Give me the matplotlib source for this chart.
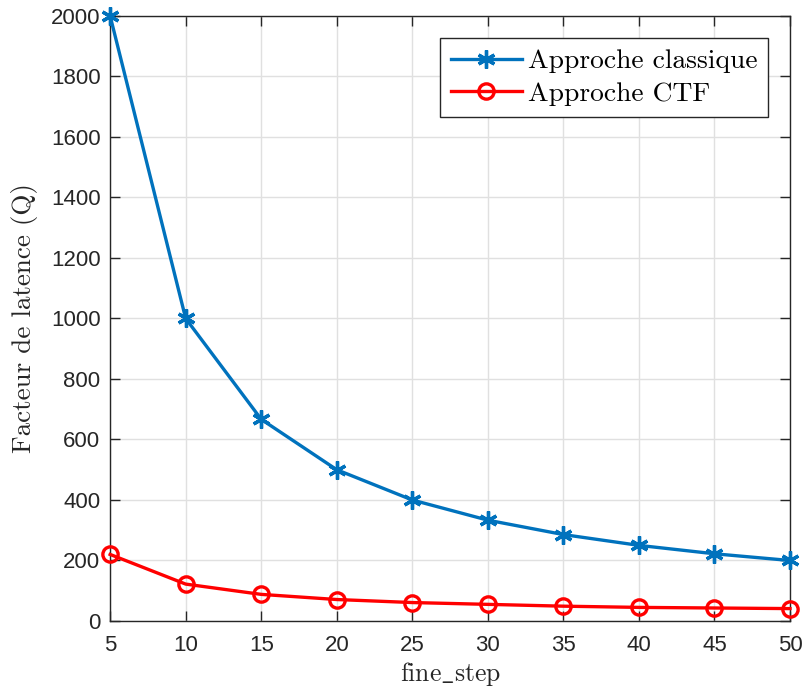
import matplotlib
matplotlib.use('Agg')
import matplotlib.pyplot as plt

# fine_step values and latency factors for both approaches
fine_step = [5, 10, 15, 20, 25, 30, 35, 40, 45, 50]
q_classique = [2000, 1000, 666.7, 500, 400, 333.3, 285.7, 250, 222.2, 200]
q_ctf = [220, 122, 88, 71, 61, 55, 49, 45, 43, 41]

x_ticks = [5, 10, 15, 20, 25, 30, 35, 40, 45, 50]
y_ticks = [0, 200, 400, 600, 800, 1000, 1200, 1400, 1600, 1800, 2000]

plt.rcParams['font.family'] = ['Liberation Sans', 'DejaVu Sans']
plt.rcParams['mathtext.fontset'] = 'cm'

fig = plt.figure(figsize=(8.04, 6.92), dpi=100)
ax = fig.add_axes([0.137, 0.1026, 0.8456, 0.8743])

ax.plot(fine_step, q_classique, color='#0072BD', linewidth=2.4,
        marker=(6, 2, 0), markersize=13, markeredgewidth=2.4,
        label='Approche classique', clip_on=False, zorder=3)
ax.plot(fine_step, q_ctf, color='#FF0000', linewidth=2.4,
        marker='o', markersize=11, markerfacecolor='none', markeredgewidth=2.4,
        label='Approche CTF', clip_on=False, zorder=3)

ax.set_xlim(5, 50)
ax.set_ylim(0, 2000)
ax.set_xticks(x_ticks)
ax.set_yticks(y_ticks)
ax.tick_params(direction='in', top=True, right=True, labelsize=16,
               colors='#262626', length=7, width=1)
ax.tick_params(axis='x', pad=10)
ax.tick_params(axis='y', pad=7)
ax.grid(True, color='#e0e0e0', linewidth=1)
ax.set_axisbelow(True)
for s in ax.spines.values():
    s.set_color('#262626')
    s.set_linewidth(1)

ax.set_xlabel(r'$\mathrm{fine\_step}$', fontsize=18.5, color='#262626', labelpad=3)
ax.set_ylabel('Facteur de latence (Q)', fontfamily='cmr10', fontsize=19.5,
              color='#262626', labelpad=9)

leg = ax.legend(loc='upper right', prop={'family': 'cmr10', 'size': 19.8},
                fancybox=False, framealpha=1, edgecolor='#262626',
                borderaxespad=0.8, handlelength=2.6, handletextpad=0.2,
                borderpad=0.4, labelspacing=0.3)
leg.get_frame().set_linewidth(1)

fig.savefig('out.png', dpi=100)
